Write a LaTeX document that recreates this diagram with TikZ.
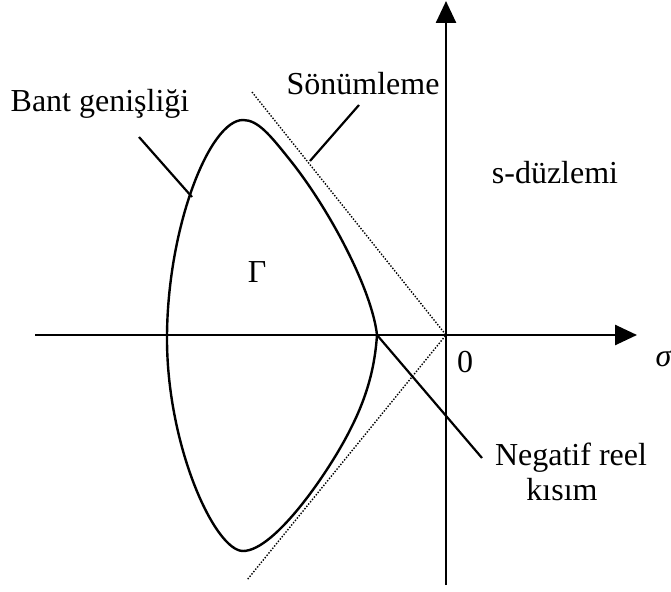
\documentclass[tikz,border=0pt]{standalone}
\usepackage{fontspec}
\setmainfont{Liberation Serif}
\usetikzlibrary{arrows.meta}
\begin{document}
\begin{tikzpicture}[x=1pt,y=-1pt,
  axis/.style={line width=2.6pt,-{Triangle[length=22pt,width=20pt]}},
  curve/.style={line width=2.4pt},
  guide/.style={line width=1.4pt,dash pattern=on 1.4pt off 1.6pt},
  leader/.style={line width=2.2pt},
  lbl/.style={font=\fontsize{32}{38}\selectfont,inner sep=0pt,anchor=base}]
\useasboundingbox (0,0) rectangle (671,591);
\coordinate (O) at (446,335);
\coordinate (xs) at (35,335);
\coordinate (xe) at (637,335);
\coordinate (ys) at (446,585);
\coordinate (ye) at (446,1);
\draw[axis] (xs) -- (xe);
\draw[axis] (ys) -- (ye);
% guides
\coordinate (g1) at (252,92);
\coordinate (g2) at (247,580);
\draw[guide] (g1) -- (O) -- (g2);
% curve
\coordinate (tip) at (377,335);
\draw[curve] (tip) .. controls (372,290) and (330,210) .. (290,160)
  .. controls (270,135) and (258,120) .. (243,120)
  .. controls (210,120) and (168,225) .. (167,335)
  .. controls (166,445) and (215,551) .. (243,551)
  .. controls (275,551) and (330,470) .. (350,430)
  .. controls (368,395) and (375,365) .. (tip) -- cycle;
% labels
\node[lbl] (bant) at (100,112) {Bant genişliği};
\node[lbl] (son) at (363,95) {Sönümleme};
\node[lbl] (sd) at (555,183) {s-düzlemi};
\node[lbl] (gam) at (257,282) {Γ};
\node[lbl] (zero) at (465,372) {0};
\node[lbl] (sig) at (664,366) {\textit{σ}};
\node[lbl] (neg) at (571,465) {Negatif reel};
\node[lbl] (kis) at (562,500) {kısım};
% leaders
\coordinate (b1) at (139,137);
\coordinate (b2) at (192,197);
\draw[leader] (b1) -- (b2);
\coordinate (s1) at (359,105);
\coordinate (s2) at (310,161);
\draw[leader] (s1) -- (s2);
\coordinate (n2) at (482,458);
\draw[leader] (tip) -- (n2);
\end{tikzpicture}
\end{document}
